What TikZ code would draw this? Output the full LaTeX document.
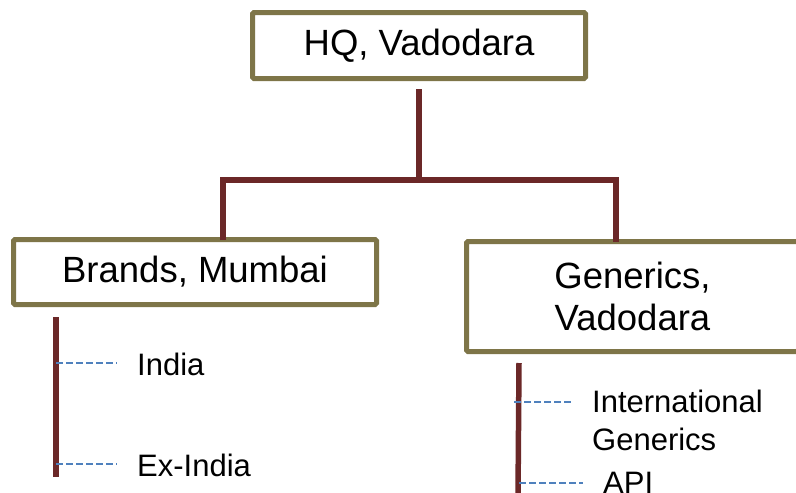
\documentclass[tikz,border=0pt]{standalone}
\usepackage{fontspec}
\setmainfont{Liberation Sans}
\definecolor{olivebox}{HTML}{7E7548}
\definecolor{darkred}{HTML}{6B2828}
\definecolor{dashblue}{HTML}{4F81BD}
\begin{document}
\begin{tikzpicture}[x=1pt,y=-1pt,
  unitbox/.style={draw=olivebox,line width=5pt,fill=white,rounded corners=1.5pt,inner sep=0pt,
    font=\fontsize{36.5}{42}\selectfont,align=center},
  conn/.style={draw=darkred,line width=5.5pt},
  dl/.style={draw=dashblue,line width=1.5pt,dash pattern=on 7pt off 3pt},
  lbl/.style={inner sep=0pt,font=\fontsize{31}{38}\selectfont,align=left}]
\useasboundingbox (0,0) rectangle (796,493);
\begin{scope}
\clip (0,0) rectangle (796,493);
\node[unitbox,minimum width=333pt,minimum height=66pt] (hq) at (419,45.5) {HQ, Vadodara};
\node[unitbox,minimum width=363pt,minimum height=65pt] (brands) at (195,272) {Brands, Mumbai};
\node[unitbox,minimum width=332pt,minimum height=110pt] (gen) at (632.5,296.5) {Generics,\\Vadodara};

\coordinate (lb) at (223,180);
\coordinate (rb) at (616,180);
\draw[conn] ([yshift=-8pt]hq.south) -- (hq.south |- lb);
\draw[conn] ([yshift=-3pt]lb |- brands.north) -- (lb) -- (rb) -- ([yshift=-3pt]rb |- gen.north);

% Brands sub-list
\coordinate (btop) at (56,317);
\coordinate (bbot) at (56,477);
\draw[conn] (btop) -- (bbot);
\node[lbl,anchor=base west] (india) at (137,375) {India};
\node[lbl,anchor=base west] (exindia) at (137,476) {Ex-India};
\coordinate (dI) at ([shift={(-20pt,12pt)}]india.base west);
\coordinate (dE) at ([shift={(-20pt,12pt)}]exindia.base west);
\draw[dl] (btop |- dI) -- (dI);
\draw[dl] (btop |- dE) -- (dE);

% Generics sub-list
\coordinate (gtop) at (519,363);
\coordinate (gbot) at (518,497);
\draw[conn] (gtop) -- (gbot);
\node[lbl,anchor=base west] (intl) at (592,450) {International\\Generics};
\node[lbl,anchor=base west] (api) at (603,493) {API};
\coordinate (dN) at (573,402);
\coordinate (dA) at (583,483);
\draw[dl] (514,402) -- (dN);
\draw[dl] (gtop |- dA) -- (dA);
\end{scope}
\end{tikzpicture}
\end{document}
